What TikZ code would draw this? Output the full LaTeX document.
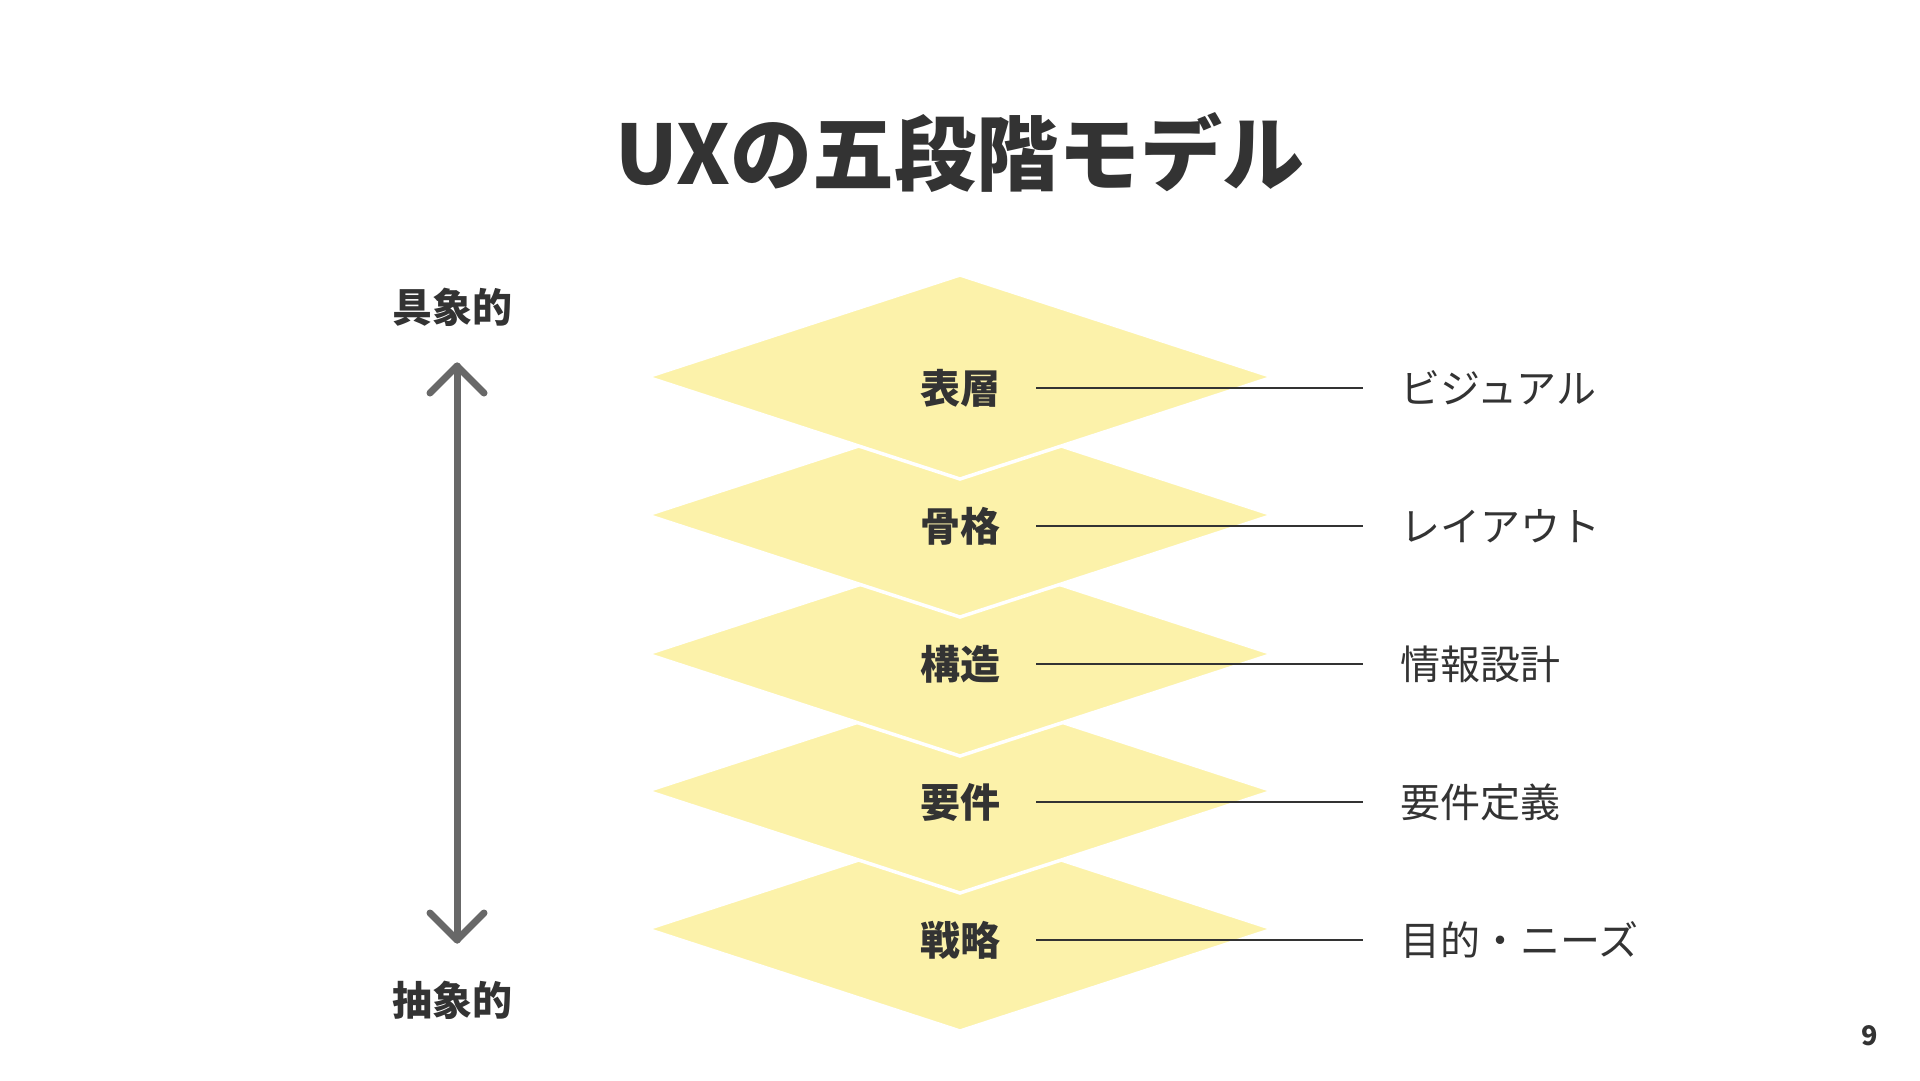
\documentclass[tikz,border=0pt]{standalone}
\usepackage{fontspec}
\setmainfont{Noto Sans CJK JP}
\definecolor{ink}{RGB}{51,51,51}
\definecolor{arrowgray}{RGB}{104,104,104}
\definecolor{layer}{RGB}{252,242,170}
\tikzset{
  layerbox/.style={fill=layer, draw=white, line width=3.5pt, line join=miter},
  layerlabel/.style={inner sep=0pt, text=ink, font=\fontsize{40}{42}\selectfont\bfseries},
  desclabel/.style={inner sep=0pt, anchor=west, text=ink, font=\fontsize{40}{42}\selectfont},
  sidelabel/.style={inner sep=0pt, text=ink, font=\fontsize{40}{42}\selectfont\bfseries},
  leader/.style={draw=ink, line width=1.4pt, shorten <=36pt, shorten >=37pt},
  scalearrow/.style={draw=arrowgray, line width=7pt, line cap=round, line join=round}
}
\begin{document}
\begin{tikzpicture}[x=1pt,y=-1pt]
\useasboundingbox (0,0) rectangle (1920,1080);
\fill[white] (0,0) rectangle (1920,1080);

% title
\node[inner sep=0pt, text=ink, font=\fontsize{82}{88}\selectfont\bfseries] (title) at (960,153) {UXの五段階モデル};

% diamonds, drawn bottom to top
\foreach \cy in {929,791,654,515,377}{
  \path[layerbox] (960,\cy-102) -- (1273,\cy) -- (960,\cy+102) -- (647,\cy) -- cycle;
}

% layer labels
\node[layerlabel] (l1) at (960,388) {表層};
\node[layerlabel] (l2) at (960,526) {骨格};
\node[layerlabel] (l3) at (960,664) {構造};
\node[layerlabel] (l4) at (960,802) {要件};
\node[layerlabel] (l5) at (960,940) {戦略};

% descriptions
\node[desclabel] (r1) at (1400,388) {ビジュアル};
\node[desclabel] (r2) at (1400,526) {レイアウト};
\node[desclabel] (r3) at (1400,664) {情報設計};
\node[desclabel] (r4) at (1400,802) {要件定義};
\node[desclabel] (r5) at (1400,940) {目的・ニーズ};

% leaders
\foreach \i in {1,...,5}{
  \draw[leader] (l\i.east) -- (r\i.west |- l\i.east);
}

% side scale
\node[sidelabel] (concrete) at (452,307) {具象的};
\node[sidelabel] (abstract) at (452,1000) {抽象的};
\coordinate (atop) at (457,366);
\coordinate (abot) at (457,940);
\draw[scalearrow] (atop) -- (abot);
\draw[scalearrow] (atop) ++(-27,27) -- (atop) -- ++(27,27);
\draw[scalearrow] (abot) ++(-27,-27) -- (abot) -- ++(27,-27);

% page number
\node[inner sep=0pt, text=ink, font=\fontsize{27}{30}\selectfont\bfseries] (page) at (1870,1036) {9};
\end{tikzpicture}
\end{document}
